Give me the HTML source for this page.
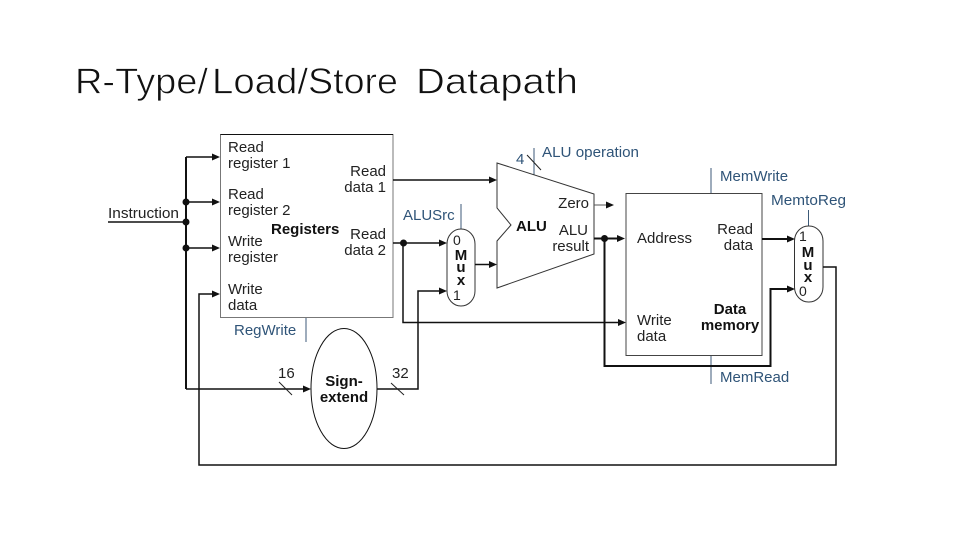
<!DOCTYPE html>
<html><head><meta charset="utf-8"><style>
html,body{margin:0;padding:0;background:#fff;width:960px;height:540px;overflow:hidden}
svg{display:block}
text{font-family:"Liberation Sans",sans-serif;font-size:15px;fill:#222}
.b{font-weight:bold;fill:#111}
.c{fill:#2f5478}
.h{font-size:36px;fill:#111;stroke:#fff;stroke-width:.7px}
.w{fill:none;stroke:#111;stroke-width:1.5}
.t{fill:none;stroke:#111;stroke-width:2}
.g{fill:none;stroke:#3c5a78;stroke-width:1}
.a{fill:#111;stroke:none}
</style></head><body>
<svg width="960" height="540" viewBox="0 0 960 540" xmlns="http://www.w3.org/2000/svg">
<text class="h" x="75" y="93.500" textLength="133" lengthAdjust="spacingAndGlyphs">R-Type/</text>
<text class="h" x="212" y="93.500" textLength="96" lengthAdjust="spacingAndGlyphs">Load/</text>
<text class="h" x="308" y="93.500" textLength="90" lengthAdjust="spacingAndGlyphs">Store</text>
<text class="h" x="416" y="93.500" textLength="162" lengthAdjust="spacingAndGlyphs">Datapath</text>

<!-- control lines -->
<path class="g" d="M306 317V342M461 204V229M534 148V175M711 168V193M711 355V384M808.500 210V226"/>

<!-- blocks -->
<rect x="220.500" y="134.500" width="172.500" height="183" fill="#fff" stroke="#777" stroke-width="1"/>
<path d="M220.500 134.500H393" stroke="#111" stroke-width="1" fill="none"/>
<rect x="626" y="193.500" width="136" height="162" fill="#fff" stroke="#444" stroke-width="1"/>
<polygon points="497,163 594,194 594,254 497,288 497,241 511,225 497,208" fill="#fff" stroke="#333" stroke-width="1"/>
<rect x="447" y="229" width="28" height="77" rx="14" ry="15" fill="#fff" stroke="#333" stroke-width="1"/>
<rect x="794.500" y="226" width="28.500" height="76" rx="14" ry="15" fill="#fff" stroke="#333" stroke-width="1"/>
<ellipse cx="344" cy="388.500" rx="33" ry="60" fill="#fff" stroke="#111" stroke-width="1"/>

<!-- wires -->
<path class="w" d="M108 222H186"/>
<path class="t" d="M186 157V389"/>
<path class="w" d="M186 389H305"/>
<path class="w" d="M186 157H212M186 202H212M186 248H212"/>
<path class="w" d="M212 294H199V465H836V267H823"/>
<path class="w" d="M393 180H490" stroke="#333"/>
<path class="w" d="M393 243H440"/>
<path class="w" d="M403 243V322.500H620"/>
<path class="w" d="M377 389H418V291H440"/>
<path class="w" d="M475 264.500H490"/>
<path d="M594 205H607" stroke="#555" stroke-width="1" fill="none"/>
<path class="t" d="M594 238.500H618"/>
<path class="t" d="M604.500 238.500V366H770.500V289H787"/>
<path class="t" d="M762 239H787" stroke="#333"/>

<!-- slashes -->
<path d="M527 155L541 170M279 382L292 395M391 383L404 395" stroke="#222" stroke-width="1" fill="none"/>

<!-- arrowheads -->
<path class="a" d="M212 153.500L220 157L212 160.500ZM212 198.500L220 202L212 205.500ZM212 244.500L220 248L212 251.500ZM212 290.500L220 294L212 297.500ZM303 385.500L311 389L303 392.500ZM489 176.500L497 180L489 183.500ZM439 239.500L447 243L439 246.500ZM439 287.500L447 291L439 294.500ZM489 261L497 264.500L489 268ZM606 201.500L614 205L606 208.500ZM617 235L625 238.500L617 242ZM618 319L626 322.500L618 326ZM787 235.500L795 239L787 242.500ZM787 285.500L795 289L787 292.500Z"/>

<!-- dots -->
<circle class="a" cx="186" cy="202" r="3.500"/>
<circle class="a" cx="186" cy="222" r="3.500"/>
<circle class="a" cx="186" cy="248" r="3.500"/>
<circle class="a" cx="403.500" cy="243" r="3.500"/>
<circle class="a" cx="604.500" cy="238.500" r="3.500"/>

<!-- labels -->
<text x="108" y="218" textLength="71" lengthAdjust="spacingAndGlyphs">Instruction</text>
<text x="228" y="152">Read</text>
<text x="228" y="168">register 1</text>
<text x="228" y="199">Read</text>
<text x="228" y="215">register 2</text>
<text x="228" y="246">Write</text>
<text x="228" y="262">register</text>
<text x="228" y="294">Write</text>
<text x="228" y="310">data</text>
<text class="b" x="271" y="234">Registers</text>
<text x="386" y="176" text-anchor="end">Read</text>
<text x="386" y="192" text-anchor="end">data 1</text>
<text x="386" y="239" text-anchor="end">Read</text>
<text x="386" y="255" text-anchor="end">data 2</text>
<text class="c" x="403" y="220">ALUSrc</text>
<text class="c" x="234" y="335">RegWrite</text>
<text class="c" x="516" y="164">4</text>
<text class="c" x="542" y="157" textLength="97" lengthAdjust="spacingAndGlyphs">ALU operation</text>
<text x="453" y="245" style="font-size:14px">0</text>
<text x="453" y="300" style="font-size:14px">1</text>
<text class="b" x="461" y="260" text-anchor="middle">M</text>
<text class="b" x="461" y="272" text-anchor="middle">u</text>
<text class="b" x="461" y="285" text-anchor="middle">x</text>
<text class="b" x="516" y="231">ALU</text>
<text x="589" y="208" text-anchor="end">Zero</text>
<text x="588" y="235" text-anchor="end">ALU</text>
<text x="589" y="251" text-anchor="end">result</text>
<text x="637" y="243">Address</text>
<text x="753" y="234" text-anchor="end">Read</text>
<text x="753" y="250" text-anchor="end">data</text>
<text x="637" y="325">Write</text>
<text x="637" y="341">data</text>
<text class="b" x="730" y="314" text-anchor="middle">Data</text>
<text class="b" x="730" y="330" text-anchor="middle">memory</text>
<text class="c" x="720" y="181">MemWrite</text>
<text class="c" x="771" y="205" textLength="75" lengthAdjust="spacingAndGlyphs">MemtoReg</text>
<text class="c" x="720" y="382">MemRead</text>
<text x="799" y="241" style="font-size:14px">1</text>
<text x="799" y="296" style="font-size:14px">0</text>
<text class="b" x="808" y="257" text-anchor="middle">M</text>
<text class="b" x="808" y="270" text-anchor="middle">u</text>
<text class="b" x="808" y="282" text-anchor="middle">x</text>
<text x="278" y="378">16</text>
<text x="392" y="378">32</text>
<text class="b" x="344" y="386" text-anchor="middle">Sign-</text>
<text class="b" x="344" y="402" text-anchor="middle">extend</text>
</svg>
</body></html>
